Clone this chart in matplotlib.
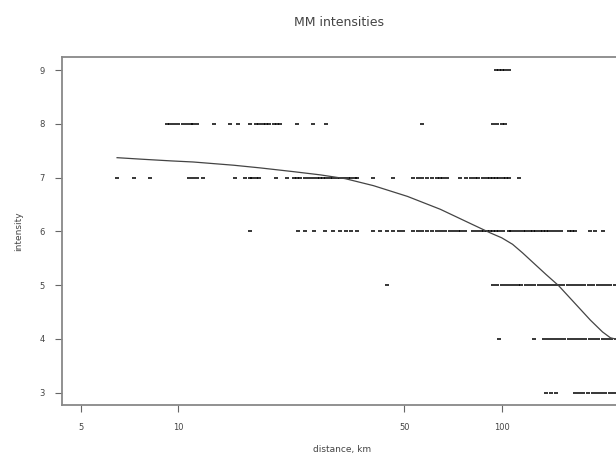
import numpy as np
import matplotlib
matplotlib.use('Agg')
import matplotlib.pyplot as plt

x_i9 = [96, 98, 100, 102, 105]
x_i8 = [9.2, 9.4, 9.7, 10.0, 10.3, 10.6, 10.9, 11.1, 11.4, 12.9, 14.4, 15.3, 16.6,
        17.4, 17.8, 18.2, 18.6, 19.1, 19.8, 20.2, 20.6, 23.3, 26.1, 28.7, 56.6,
        94.3, 97, 100, 102]
x_i7 = [6.46, 7.29, 8.17, 10.8, 11.1, 11.4, 11.9, 15.0, 16.1, 16.6, 16.9, 17.4, 17.8,
        20.0, 21.6, 22.7, 23.3, 23.8, 24.7, 25.4, 26.1, 26.8, 27.5, 28.1, 28.7, 29.4,
        30.1, 30.9, 31.7, 32.6, 33.5, 34.3, 35.2, 35.7, 40.1, 46.2, 53.3, 55, 56.6,
        58.9, 61.0, 63.2, 64.6, 66, 67.9, 74.5, 77.8, 80.6, 82.5, 84.7, 87.8, 90, 92,
        94.3, 96, 98.4, 101, 103, 105, 113]
x_i6 = [16.6, 23.5, 24.7, 26.2, 28.5, 30.1, 31.7, 33.0, 34.3, 35.7, 40.1, 42, 44.3,
        46.2, 48, 49.6, 53.3, 55, 56.6, 58.9, 61.0, 63.2, 65, 67, 69, 71, 73, 75, 77.2,
        81.7, 84, 86, 88, 90, 92, 94, 96, 98, 101, 105, 107, 110, 113, 116, 119, 122,
        125, 128, 131, 134, 137, 140, 144, 148, 152, 161, 165, 169, 187, 195, 205]
x_i5 = [44.3, 94, 97, 100, 103, 106, 109, 112, 115, 119, 122, 126, 130, 134, 138, 142,
        146, 150, 155, 160, 165, 170, 175, 180, 186, 192, 198, 204, 210, 217, 224, 231]
x_i4 = [98.4, 126, 135, 139, 143, 147, 151, 156, 161, 166, 171, 176, 181, 187, 193,
        199, 205, 211, 218, 225, 232]
x_i3 = [137, 142, 147, 169, 174, 179, 185, 191, 197, 203, 209, 216, 223, 230]

rows = {9: x_i9, 8: x_i8, 7: x_i7, 6: x_i6, 5: x_i5, 4: x_i4, 3: x_i3}

# smooth curve through the cloud
smooth_x = [6.46, 7.78, 9.5, 11.1, 14.8, 17.9, 22.7, 27.5, 32.8, 40.1, 51.1, 64.6,
            81.7, 92.3, 100, 108, 116, 125, 137, 150, 165, 188, 205, 217, 236]
smooth_y = [7.37, 7.34, 7.31, 7.29, 7.23, 7.18, 7.11, 7.05, 6.98, 6.85, 6.65, 6.41,
            6.12, 5.97, 5.88, 5.76, 5.60, 5.42, 5.20, 4.99, 4.72, 4.35, 4.13, 4.02, 3.97]

xticks = [5, 10, 50, 100]
yticks = [3, 4, 5, 6, 7, 8, 9]

fig = plt.figure(figsize=(6.16, 4.59), dpi=100)
ax = fig.add_axes([0.1002, 0.1176, 0.91, 0.7588])

for iy, xs in rows.items():
    ax.plot(xs, [iy] * len(xs), linestyle='none', marker='_', markersize=3.5,
            markeredgewidth=1.1, color='black')
ax.plot(smooth_x, smooth_y, color='#444444', linewidth=0.9)

ax.set_xscale('log')
ax.set_xlim(4.355, 236)
ax.set_ylim(2.771, 9.247)
ax.set_xticks(xticks)
ax.set_xticklabels([str(t) for t in xticks])
ax.xaxis.set_minor_locator(matplotlib.ticker.NullLocator())
ax.set_yticks(yticks)
ax.set_yticklabels([str(t) for t in yticks])

for s in ax.spines.values():
    s.set_color('#888888')
    s.set_linewidth(1.3)
ax.tick_params(axis='both', direction='out', length=5, width=0.8, color='#666666',
               labelsize=6, labelcolor='#444444')
ax.tick_params(axis='x', pad=8)
ax.tick_params(axis='y', pad=7)

ax.set_xlabel('distance, km', fontsize=6.5, color='#444444', labelpad=9)
ax.set_ylabel('intensity', fontsize=6.5, color='#444444', labelpad=12)
fig.text(0.55, 0.952, 'MM intensities', ha='center', va='center', fontsize=9,
         color='#444444')

fig.savefig('out.png', dpi=100)
